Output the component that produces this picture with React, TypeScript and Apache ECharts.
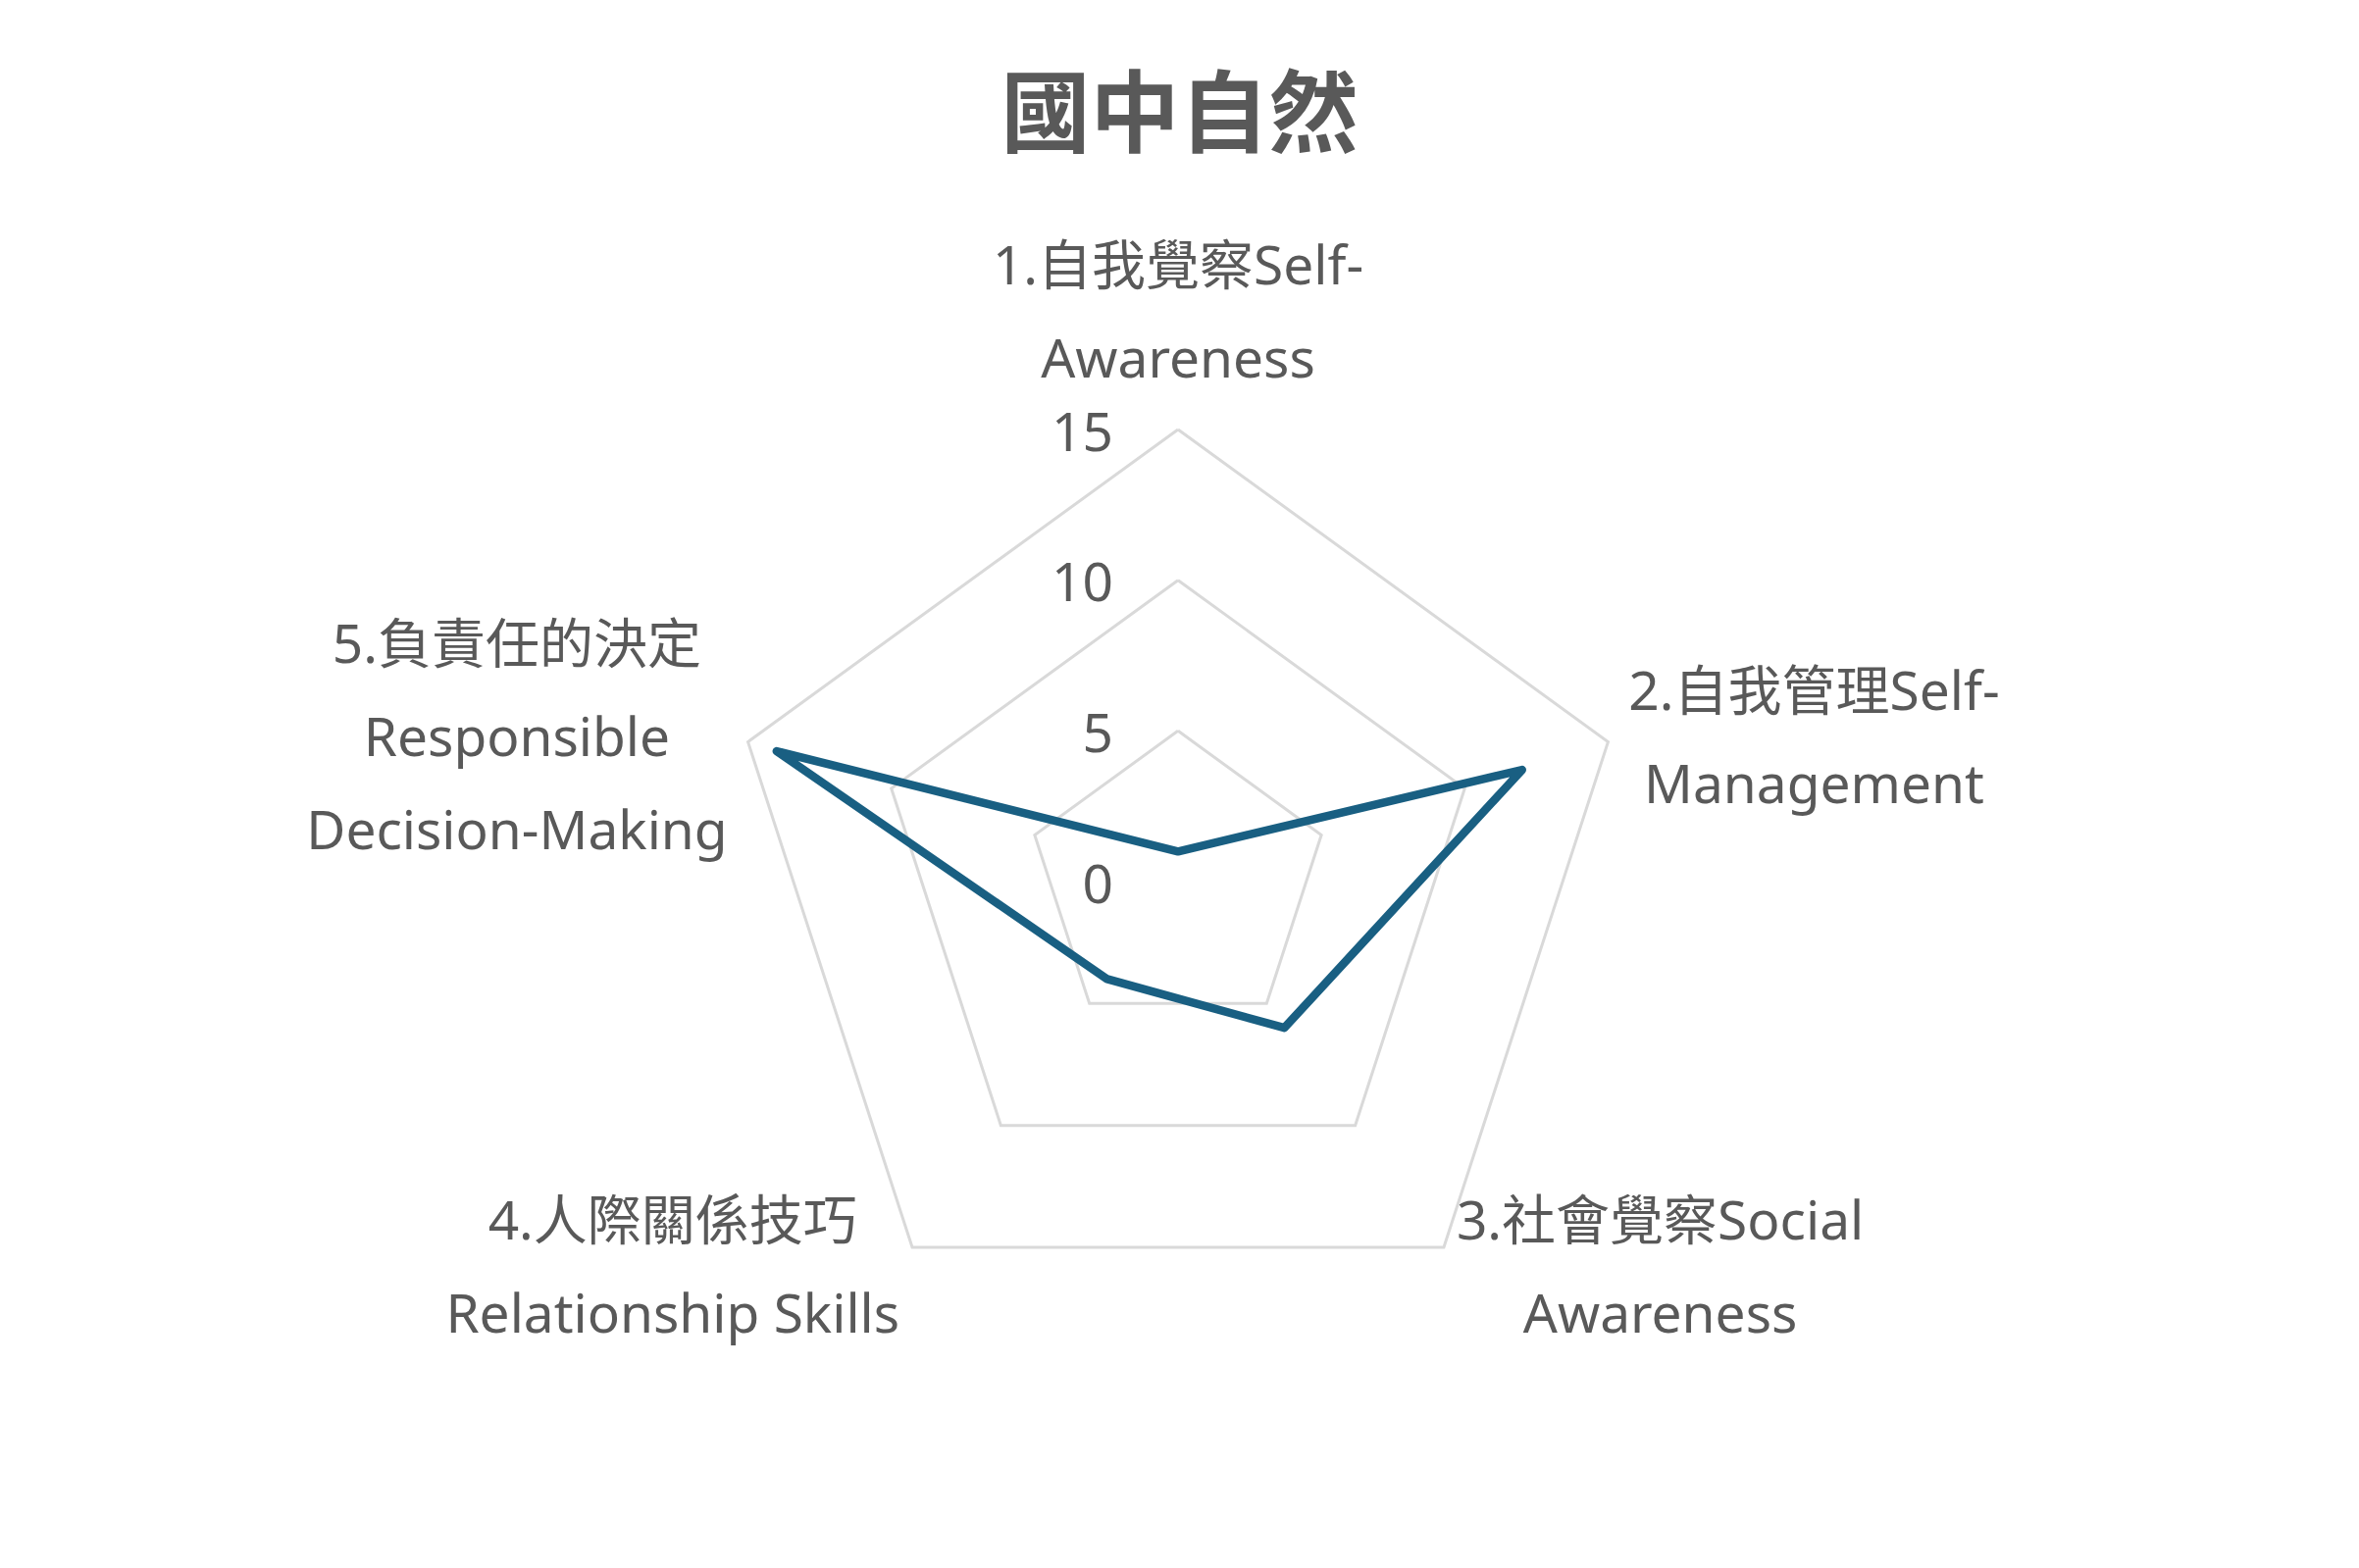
import { useEffect, useRef } from "react";
import * as echarts from "echarts";

// 指標名稱（每行一個元素），依原圖順時針順序
const indicatorNames: string[][] = [
  ["1.自我覺察Self-", "Awareness"],
  ["2.自我管理Self-", "Management"],
  ["3.社會覺察Social", "Awareness"],
  ["4.人際關係技巧", "Relationship Skills"],
  ["5.負責任的決定", "Responsible", "Decision-Making"],
];

// 分數
const scores = [1, 12, 6, 4, 14];

const axisMin = 0;
const axisMax = 15;
const splitCount = 3;

// ECharts 雷達圖是逆時針排列，這裡把順序換成順時針
const clockwiseOrder = [0, 4, 3, 2, 1];

const FONT = "'Noto Sans', 'Noto Sans CJK TC', sans-serif";
const TEXT_COLOR = "#595959";

const App = () => {
  const chartRef = useRef<HTMLDivElement>(null);

  useEffect(() => {
    if (!chartRef.current) return;

    const chart = echarts.init(chartRef.current, undefined, { renderer: "svg" });

    const option: echarts.EChartsOption = {
      animation: false,
      backgroundColor: "#ffffff",
      title: {
        text: "國中自然",
        left: "center",
        top: 62,
        textStyle: {
          fontFamily: FONT,
          fontSize: 91,
          fontWeight: "bold",
          color: TEXT_COLOR,
        },
      },
      radar: {
        center: [1201, 899],
        radius: 461,
        startAngle: 90,
        splitNumber: splitCount,
        shape: "polygon",
        nameGap: 22,
        axisName: {
          formatter: (name?: string) =>
            (name || "")
              .split("\n")
              .map((line) => `{c|${line}}`)
              .join("\n"),
          color: TEXT_COLOR,
          fontFamily: FONT,
          fontSize: 55,
          lineHeight: 95,
          rich: {
            c: {
              align: "center",
              color: TEXT_COLOR,
              fontFamily: FONT,
              fontSize: 55,
              lineHeight: 95,
            },
          },
        },
        axisLine: { show: false },
        axisTick: { show: false },
        axisLabel: { show: false },
        splitArea: { show: false },
        splitLine: {
          lineStyle: {
            color: "#d9d9d9",
            width: 3,
          },
        },
        indicator: clockwiseOrder.map((idx, i) => ({
          name: indicatorNames[idx].join("\n"),
          min: axisMin,
          max: axisMax,
          ...(i === 0
            ? {
                axisLabel: {
                  show: true,
                  margin: 66,
                  color: TEXT_COLOR,
                  fontFamily: FONT,
                  fontSize: 55,
                },
              }
            : {}),
        })),
      },
      series: [
        {
          type: "radar",
          symbol: "none",
          data: [
            {
              value: clockwiseOrder.map((idx) => scores[idx]),
              name: "國中自然",
              lineStyle: {
                color: "#195f82",
                width: 8.5,
                join: "round",
                cap: "round",
              },
            },
          ],
        },
      ],
    };

    chart.setOption(option);

    return () => {
      chart.dispose();
    };
  }, []);

  return (
    <div
      style={{
        position: "absolute",
        left: 0,
        top: 0,
        width: 2405,
        height: 1599,
        boxSizing: "border-box",
        border: "2px solid #d9d9d9",
        background: "#ffffff",
      }}
    >
      <div ref={chartRef} style={{ position: "absolute", left: -2, top: -2, width: 2405, height: 1599 }} />
    </div>
  );
};

export default App;
